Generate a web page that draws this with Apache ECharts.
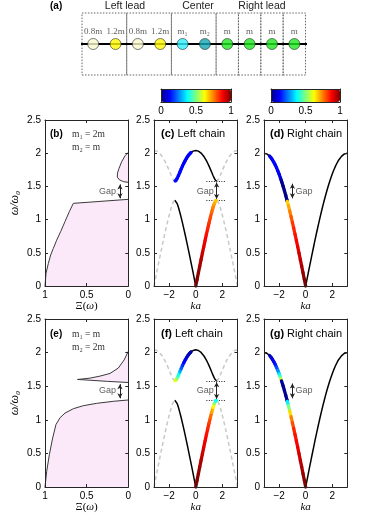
<!DOCTYPE html>
<html><head><meta charset="utf-8">
<script src="https://cdn.jsdelivr.net/npm/echarts@6.0.0/dist/echarts.min.js"></script>
<style>html,body{margin:0;padding:0;background:#fff;}#chart{width:367px;height:513px;}</style>
</head><body><div id="chart"></div>
<script>
// ---------- (a) lattice sketch ----------
const atomLabels = ['0.8m','1.2m','0.8m','1.2m','m\u2081','m\u2082','m','m','m','m'];
const atomColors = ['#fbf8cf','#fff700','#fbf8cf','#fff700','#2ff0ff','#13a8b3','#1de81d','#1de81d','#1de81d','#1de81d'];
const cellEdges = [-0.5,1.5,3.5,5.5,6.5,7.5,8.5,9.5];
const regionNames = ['Left lead','Center','Right lead'];

// ---------- tick labels ----------
const kTicks = [-2,0,2];
const cbarTicks = [0,0.5,1];

// ---------- dispersion, left chain (0.8m / 1.2m), k >= 0 half ----------
const leftK =     [0,0.1,0.2,0.3,0.4,0.5,0.6,0.7,0.8,0.9,1.0,1.1,1.2,1.3,1.4,1.5,1.5708];
const leftUpper = [2.041,2.039,2.031,2.019,2.002,1.981,1.954,1.923,1.888,1.849,1.806,1.760,1.712,1.664,1.620,1.589,1.581];
const leftLower = [0,0.100,0.200,0.299,0.397,0.494,0.590,0.684,0.776,0.865,0.951,1.034,1.111,1.182,1.241,1.282,1.291];

// ---------- dispersion, right chain (m), k >= 0 half ----------
const rightK = [0,0.1,0.2,0.3,0.4,0.5,0.6,0.7,0.8,0.9,1.0,1.1,1.2,1.3,1.4,1.5,1.6,1.7,1.8,1.9,2.0,2.1,2.2,2.3,2.4,2.5,2.6,2.7,2.8,2.9,3.0,3.1416];
const rightW = [0,0.100,0.200,0.299,0.397,0.495,0.591,0.686,0.779,0.870,0.959,1.045,1.129,1.210,1.288,1.363,1.435,1.503,1.567,1.627,1.683,1.735,1.782,1.826,1.864,1.898,1.927,1.952,1.971,1.986,1.995,2.000];

// ---------- coloured points [ka, w/w0, value] ----------
const cUpperC = [[-1.55,1.583,0.13],[-1.5,1.589,0.13],[-1.4,1.620,0.13],[-1.3,1.664,0.13],[-1.2,1.712,0.13],[-1.1,1.760,0.13],[-1.0,1.806,0.12],[-0.9,1.849,0.12],[-0.8,1.888,0.12],[-0.7,1.923,0.12],[-0.6,1.954,0.12],[-0.5,1.981,0.12],[-0.4,2.002,0.12],[-0.35,2.011,0.12]];
const cLowerC = [[0,0,1],[0.1,0.100,0.99],[0.2,0.200,0.98],[0.3,0.299,0.96],[0.4,0.397,0.94],[0.5,0.494,0.92],[0.6,0.590,0.90],[0.7,0.684,0.88],[0.8,0.776,0.86],[0.9,0.865,0.84],[1.0,0.951,0.82],[1.1,1.034,0.80],[1.2,1.111,0.77],[1.3,1.182,0.74],[1.4,1.241,0.71],[1.5,1.282,0.68],[1.55,1.289,0.66]];
const dRightC = [[-2.72,1.956,0.08],[-2.6,1.927,0.11],[-2.5,1.898,0.12],[-2.4,1.864,0.13],[-2.3,1.826,0.13],[-2.2,1.782,0.13],[-2.1,1.735,0.12],[-2.0,1.683,0.10],[-1.9,1.627,0.08],[-1.85,1.597,0.05],[-1.8,1.567,0.01],[-1.7,1.503,0.01],[-1.6,1.435,0.01],[-1.5,1.363,0.01],[-1.4,1.288,0.02],[-1.38,1.273,0.67],[-1.3,1.210,0.71],[-1.2,1.129,0.75],[-1.1,1.045,0.79],[-1.0,0.959,0.82],[-0.9,0.870,0.84],[-0.8,0.779,0.86],[-0.7,0.686,0.88],[-0.6,0.591,0.90],[-0.5,0.495,0.92],[-0.4,0.397,0.94],[-0.3,0.299,0.96],[-0.2,0.200,0.98],[-0.1,0.100,0.99],[0,0,1]];
const fUpperC = [[-1.55,1.583,0.62],[-1.5,1.589,0.60],[-1.45,1.603,0.55],[-1.4,1.620,0.50],[-1.35,1.641,0.45],[-1.3,1.664,0.40],[-1.2,1.712,0.30],[-1.1,1.760,0.22],[-1.0,1.806,0.17],[-0.9,1.849,0.13],[-0.8,1.888,0.11],[-0.7,1.923,0.09],[-0.6,1.954,0.07],[-0.5,1.981,0.05],[-0.4,2.002,0.04],[-0.35,2.011,0.03]];
const fLowerC = [[0,0,1],[0.1,0.100,0.99],[0.2,0.200,0.98],[0.3,0.299,0.96],[0.4,0.397,0.94],[0.5,0.494,0.92],[0.6,0.590,0.90],[0.7,0.684,0.88],[0.8,0.776,0.86],[0.9,0.865,0.84],[1.0,0.951,0.81],[1.1,1.034,0.77],[1.2,1.111,0.71],[1.3,1.182,0.63],[1.4,1.241,0.50],[1.5,1.282,0.38],[1.55,1.289,0.36]];
const gRightC = [[-2.72,1.956,0.05],[-2.6,1.927,0.08],[-2.5,1.898,0.10],[-2.4,1.864,0.12],[-2.3,1.826,0.15],[-2.2,1.782,0.20],[-2.1,1.735,0.27],[-2.0,1.683,0.36],[-1.95,1.656,0.42],[-1.9,1.627,0.50],[-1.85,1.597,0.60],[-1.82,1.579,0.03],[-1.7,1.503,0.02],[-1.6,1.435,0.02],[-1.5,1.363,0.02],[-1.4,1.288,0.03],[-1.38,1.273,0.36],[-1.3,1.210,0.50],[-1.2,1.129,0.66],[-1.1,1.045,0.75],[-1.0,0.959,0.80],[-0.9,0.870,0.84],[-0.8,0.779,0.86],[-0.7,0.686,0.88],[-0.6,0.591,0.90],[-0.5,0.495,0.92],[-0.4,0.397,0.94],[-0.3,0.299,0.96],[-0.2,0.200,0.98],[-0.1,0.100,0.99],[0,0,1]];

// ---------- Xi(w) curves [Xi, w/w0] ----------
const bLower = [[1,0],[0.988,0.19],[0.96,0.34],[0.932,0.467],[0.9,0.567],[0.86,0.69],[0.812,0.82],[0.76,0.97],[0.708,1.12],[0.66,1.245],[0,1.305]];
const bUpper = [[0,2.013],[0.04,1.96],[0.08,1.87],[0.112,1.77],[0.13,1.70],[0.132,1.64],[0.108,1.60],[0.06,1.572],[0,1.561]];
const eLower = [[1,0],[0.98,0.23],[0.948,0.48],[0.908,0.73],[0.868,0.93],[0.82,1.03],[0.76,1.10],[0.66,1.165],[0.54,1.21],[0.38,1.245],[0.18,1.275],[0,1.295]];
const eUpper = [[0,2.02],[0.05,1.89],[0.12,1.77],[0.22,1.69],[0.34,1.65],[0.46,1.62],[0.61,1.60],[0.45,1.588],[0.25,1.572],[0,1.555]];

const gapEdges = [1.291, 1.581];

const jet = ['#00007f','#0000ff','#007fff','#00ffff','#7fff7f','#ffff00','#ff7f00','#ff0000','#7f0000'];
const PI = Math.PI;
const AXC = '#262626';
const fmt = v => (v < 0 ? '\u2212' : '') + Math.abs(v);

const grids = [], xAxes = [], yAxes = [], series = [];

function valAxis(o) {
  return {
    type: 'value', gridIndex: o.grid, position: o.position, min: o.min, max: o.max,
    interval: o.interval, inverse: !!o.inverse, z: 10, silent: true,
    axisLine: {show: true, onZero: false, lineStyle: {color: AXC, width: 1}},
    axisTick: {show: o.ticks !== false, inside: true, length: 3, lineStyle: {color: AXC, width: 1}, customValues: o.custom},
    axisLabel: {show: !!o.labels, color: '#000', fontSize: 10, fontFamily: 'Liberation Sans', margin: 4, customValues: o.custom, formatter: fmt},
    splitLine: {show: false},
    name: o.name || '', nameLocation: 'middle', nameGap: o.nameGap, nameRotate: o.nameRotate,
    nameTextStyle: o.nameStyle
  };
}

function addPanel(left, top, width, height, xo, yo) {
  const g = grids.length;
  grids.push({left, top, width, height, outerBoundsMode: 'none'});
  const xi = xAxes.length;
  xAxes.push(valAxis(Object.assign({}, xo, {grid: g, position: 'bottom', labels: true})));
  xAxes.push(valAxis(Object.assign({}, xo, {grid: g, position: 'top', labels: false, name: ''})));
  const yi = yAxes.length;
  yAxes.push(valAxis(Object.assign({}, yo, {grid: g, position: 'left', labels: true})));
  yAxes.push(valAxis(Object.assign({}, yo, {grid: g, position: 'right', labels: false, name: ''})));
  return {x: xi, y: yi};
}

// schematic grid
grids.push({left: 82, top: 13, width: 223.5, height: 62, outerBoundsMode: 'none'});
xAxes.push({type: 'value', gridIndex: 0, min: -0.5, max: 9.5, show: false});
yAxes.push({type: 'value', gridIndex: 0, min: 0, max: 1, show: false});

const boxes = [];
for (let i = 0; i < cellEdges.length - 1; i++) boxes.push([{xAxis: cellEdges[i], yAxis: 0}, {xAxis: cellEdges[i + 1], yAxis: 1}]);
series.push({type: 'line', xAxisIndex: 0, yAxisIndex: 0, clip: false, symbol: 'none', silent: true,
  data: [[-0.67, 0.5], [9.63, 0.5]], lineStyle: {color: '#000', width: 2},
  markArea: {silent: true, itemStyle: {color: 'rgba(255,255,255,0)', borderColor: '#666', borderWidth: 1, borderType: [1.5, 1.5]}, data: boxes}});
series.push({type: 'line', xAxisIndex: 0, yAxisIndex: 0, clip: false, symbol: 'none', silent: true,
  data: [[-1.27, 0.5], [-0.8, 0.5]], lineStyle: {color: '#000', width: 2, type: [2, 2]}});
series.push({type: 'line', xAxisIndex: 0, yAxisIndex: 0, clip: false, symbol: 'none', silent: true,
  data: [[9.76, 0.5], [10.23, 0.5]], lineStyle: {color: '#000', width: 2, type: [2, 2]}});
series.push({type: 'scatter', xAxisIndex: 0, yAxisIndex: 0, clip: false, symbolSize: 11, silent: true, z: 5,
  data: atomLabels.map((l, i) => ({value: [i, 0.5], itemStyle: {color: atomColors[i], borderColor: '#333', borderWidth: 0.8}})),
  label: {show: true, position: 'top', distance: 2, color: '#333', fontSize: 9, fontFamily: 'Liberation Serif',
    formatter: p => atomLabels[p.dataIndex]}});

// helpers
function mirror(K, W) {
  const out = [];
  for (let i = K.length - 1; i > 0; i--) out.push([-K[i], W[i]]);
  for (let i = 0; i < K.length; i++) out.push([K[i], W[i]]);
  return out;
}
function fold(K, W, s) { return K.map((k, i) => [s * (PI - k), W[i]]); }
function lineS(ax, data, style, z) {
  return {type: 'line', xAxisIndex: ax.x, yAxisIndex: ax.y, data, symbol: 'none', silent: true, z: z || 3, lineStyle: style};
}
function colorSeg(ax, pts) {
  return {type: 'custom', xAxisIndex: ax.x, yAxisIndex: ax.y, data: pts, z: 6, silent: true,
    renderItem: (params, api) => {
      const i = params.dataIndex;
      if (i >= pts.length - 1) return null;
      const a = api.coord([pts[i][0], pts[i][1]]);
      const b = api.coord([pts[i + 1][0], pts[i + 1][1]]);
      return {type: 'line', shape: {x1: a[0], y1: a[1], x2: b[0], y2: b[1]},
        style: {stroke: api.visual('color'), lineWidth: 3.3, lineCap: 'round'}};
    }};
}
function fillS(ax, pts) {
  return {type: 'custom', xAxisIndex: ax.x, yAxisIndex: ax.y, data: pts, z: 1, silent: true,
    renderItem: (params, api) => {
      if (params.dataIndex !== 0) return null;
      return {type: 'polygon', shape: {points: pts.map(p => api.coord(p))}, style: {fill: '#fbe9fa'}};
    }};
}
function annot(ax, arrowX, arrowY, textPos, dotted) {
  const ml = [];
  if (dotted) gapEdges.forEach(w => ml.push([{coord: [dotted[0], w]}, {coord: [dotted[1], w]}]));
  ml.push([{coord: [arrowX, arrowY[0]], symbol: 'arrow', symbolSize: [4, 5], lineStyle: {type: 'solid', width: 1}},
           {coord: [arrowX, arrowY[1]], symbol: 'arrow', symbolSize: [4, 5]}]);
  series.push({type: 'line', xAxisIndex: ax.x, yAxisIndex: ax.y, data: [], silent: true, z: 7,
    markLine: {silent: true, symbol: 'none', label: {show: false}, animation: false,
      lineStyle: {color: '#222', width: 1, type: [1, 1.5]}, data: ml}});
  series.push({type: 'scatter', xAxisIndex: ax.x, yAxisIndex: ax.y, data: [textPos], symbolSize: 1, silent: true, z: 7,
    itemStyle: {color: 'rgba(0,0,0,0)'},
    label: {show: true, position: 'inside', formatter: 'Gap', color: '#333', fontSize: 9, fontFamily: 'Liberation Sans'}});
}

const yOpt = (named) => ({min: 0, max: 2.5, interval: 0.5,
  name: named ? '\u03c9/\u03c9\u2080' : '', nameGap: 24, nameRotate: 90,
  nameStyle: {fontFamily: 'Liberation Serif', fontStyle: 'italic', fontSize: 12, color: '#000'}});
const xiOpt = {min: 0, max: 1, interval: 0.5, inverse: true, name: '\u039e({i|\u03c9})', nameGap: 13,
  nameStyle: {fontFamily: 'Liberation Serif', fontSize: 11, color: '#000', rich: {i: {fontFamily: 'Liberation Serif', fontStyle: 'italic', fontSize: 11}}}};
const kOpt = {min: -PI, max: PI, custom: kTicks, name: 'ka', nameGap: 13,
  nameStyle: {fontFamily: 'Liberation Serif', fontStyle: 'italic', fontSize: 11, color: '#000'}};

const rows = [{top: 120, h: 166, Xi: [bLower, bUpper], left: [cUpperC, cLowerC], right: dRightC},
              {top: 319, h: 168, Xi: [eLower, eUpper], left: [fUpperC, fLowerC], right: gRightC}];
const leftColored = [], rightColored = [];

rows.forEach(r => {
  // Xi panel
  const a1 = addPanel(45, r.top, 83.3, r.h, xiOpt, yOpt(true));
  series.push(fillS(a1, r.Xi[0].concat([[0, 0]])));
  series.push(fillS(a1, r.Xi[1]));
  series.push(lineS(a1, r.Xi[0], {color: '#3a3a3a', width: 1}));
  series.push(lineS(a1, r.Xi[1], {color: '#3a3a3a', width: 1}));
  annot(a1, 0.1, [1.32, 1.53], [0.25, 1.43], null);

  // left chain
  const a2 = addPanel(154, r.top, 83.5, r.h, kOpt, yOpt(false));
  const dash = {color: '#c8c8c8', width: 1.5, type: [4, 3]};
  series.push(lineS(a2, fold(leftK, leftLower, -1), dash, 2));
  series.push(lineS(a2, fold(leftK, leftLower, 1), dash, 2));
  series.push(lineS(a2, fold(leftK, leftUpper, -1), dash, 2));
  series.push(lineS(a2, fold(leftK, leftUpper, 1), dash, 2));
  series.push(lineS(a2, mirror(leftK, leftLower), {color: '#000', width: 1.5}));
  series.push(lineS(a2, mirror(leftK, leftUpper), {color: '#000', width: 1.5}));
  leftColored.push(series.length); series.push(colorSeg(a2, r.left[0]));
  leftColored.push(series.length); series.push(colorSeg(a2, r.left[1]));
  annot(a2, 1.5708, [1.56, 1.31], [0.72, 1.43], [0.8, 2.3]);

  // right chain
  const a3 = addPanel(264, r.top, 83.3, r.h, kOpt, yOpt(false));
  series.push(lineS(a3, mirror(rightK, rightW), {color: '#000', width: 1.5}));
  rightColored.push(series.length); series.push(colorSeg(a3, r.right));
  annot(a3, -1.0, [1.54, 1.32], [-0.12, 1.43], null);
});

// colour bar frames
[[161, 70], [271, 69]].forEach(([l, w]) => {
  const g = grids.length;
  grids.push({left: l, top: 89, width: w, height: 13, outerBoundsMode: 'none'});
  xAxes.push(Object.assign(valAxis({grid: g, position: 'bottom', min: 0, max: 1, custom: cbarTicks, labels: true, ticks: false}), {z: 12}));
  xAxes.push(Object.assign(valAxis({grid: g, position: 'top', min: 0, max: 1, labels: false, ticks: false}), {z: 12}));
  yAxes.push(Object.assign(valAxis({grid: g, position: 'left', min: 0, max: 1, labels: false, ticks: false}), {z: 12}));
  yAxes.push(Object.assign(valAxis({grid: g, position: 'right', min: 0, max: 1, labels: false, ticks: false}), {z: 12}));
});

const vmBase = {type: 'continuous', min: 0, max: 1, dimension: 2, inRange: {color: jet}, orient: 'horizontal',
  top: 89, itemWidth: 13, calculable: false, text: null, padding: 0, hoverLink: false, realtime: false};

function ptext(x, y, txt, font, extra) {
  return Object.assign({type: 'text', x, y, silent: true,
    style: Object.assign({text: txt, font, fill: '#000', verticalAlign: 'middle'}, extra || {})});
}
const rich = {b: {fontWeight: 'bold', fontSize: 11, fontFamily: 'Liberation Sans'}, n: {fontSize: 11, fontFamily: 'Liberation Sans'}};
const graphic = [
  ptext(50, 6, '(a)', 'bold 10px Liberation Sans'),
  ptext(125, 6, regionNames[0], '10.5px Liberation Sans', {align: 'center', fill: '#222'}),
  ptext(198, 6, regionNames[1], '10.5px Liberation Sans', {align: 'center', fill: '#222'}),
  ptext(262, 6, regionNames[2], '10.5px Liberation Sans', {align: 'center', fill: '#222'}),
  ptext(50, 134.5, '(b)', 'bold 10px Liberation Sans'),
  ptext(72, 134.5, 'm\u2081 = 2m', '9.5px Liberation Serif', {fill: '#333'}),
  ptext(72, 147, 'm\u2082 = m', '9.5px Liberation Serif', {fill: '#333'}),
  ptext(50, 334.5, '(e)', 'bold 10px Liberation Sans'),
  ptext(72, 334.5, 'm\u2081 = m', '9.5px Liberation Serif', {fill: '#333'}),
  ptext(72, 347, 'm\u2082 = 2m', '9.5px Liberation Serif', {fill: '#333'}),
  ptext(161, 134, '{b|(c)} {n|Left chain}', '11px Liberation Sans', {rich}),
  ptext(270, 134, '{b|(d)} {n|Right chain}', '11px Liberation Sans', {rich}),
  ptext(161, 333.5, '{b|(f)} {n|Left chain}', '11px Liberation Sans', {rich}),
  ptext(270, 333.5, '{b|(g)} {n|Right chain}', '11px Liberation Sans', {rich})
];

const chart = echarts.init(document.getElementById('chart'), null, {renderer: 'canvas'});
chart.setOption({
  animation: false,
  backgroundColor: '#fff',
  textStyle: {fontFamily: 'Liberation Sans'},
  grid: grids, xAxis: xAxes, yAxis: yAxes, series,
  visualMap: [
    Object.assign({}, vmBase, {left: 161, itemHeight: 70, seriesIndex: leftColored}),
    Object.assign({}, vmBase, {left: 271, itemHeight: 69, seriesIndex: rightColored})
  ],
  graphic
});
</script></body></html>
